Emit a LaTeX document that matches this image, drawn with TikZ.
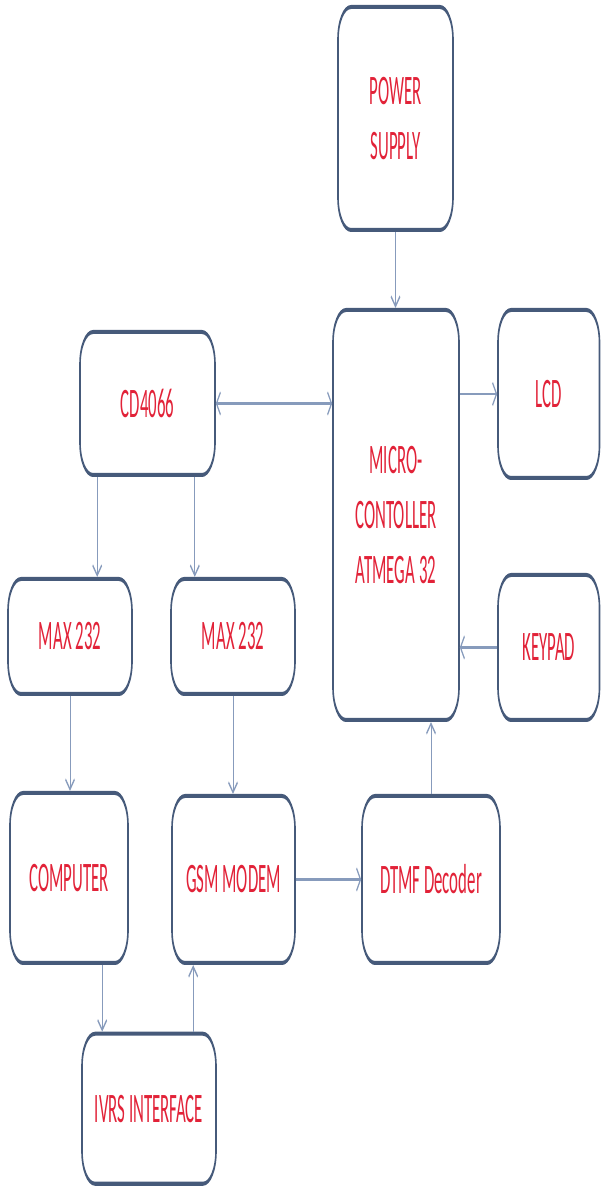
\documentclass[tikz,border=0pt]{standalone}
\usepackage{fontspec}
\setmainfont{Carlito}
\usetikzlibrary{arrows.meta,calc}
\definecolor{boxline}{RGB}{70,90,122}
\definecolor{arrline}{RGB}{135,155,188}
\definecolor{txtred}{RGB}{226,34,56}
\tikzset{
 blk/.style={draw=boxline, line width=1.6pt, rounded corners=13pt, fill=white, inner sep=0pt, align=center, text=txtred, font=\fontsize{16.8}{22}\selectfont},
 arr/.style={draw=arrline, line width=1pt, -{Straight Barb[length=4pt,width=9pt]}},
 darr/.style={draw=arrline, line width=1pt, {Straight Barb[length=4pt,width=9pt]}-{Straight Barb[length=4pt,width=9pt]}},
}
\begin{document}
\begin{tikzpicture}[x=1pt,y=1pt]
\useasboundingbox (0,0) rectangle (601,1187);
\begin{scope}[transform canvas={yscale=2.5}]
\node[blk, minimum width=115pt, minimum height=89.2pt] (PS) at (395.5,427.4) {POWER\\SUPPLY};
\node[blk, minimum width=126pt, minimum height=164pt] (MC) at (396,268.8) {MICRO-\\CONTOLLER\\ATMEGA 32};
\node[blk, minimum width=101.5pt, minimum height=67.2pt] (LCD) at (548.75,317.2) {LCD};
\node[blk, minimum width=135pt, minimum height=57.2pt] (CD) at (147.5,313.4) {CD4066};
\node[blk, minimum width=124pt, minimum height=46pt] (MAXL) at (70,220.2) {MAX 232};
\node[blk, minimum width=124pt, minimum height=46pt] (MAXM) at (233,220.2) {MAX 232};
\node[blk, minimum width=101.5pt, minimum height=58pt] (KEY) at (548.75,215.8) {KEYPAD};
\node[blk, minimum width=118pt, minimum height=68pt] (COMP) at (69,123.6) {COMPUTER};
\node[blk, minimum width=123pt, minimum height=66.8pt] (GSM) at (233.5,123) {GSM MODEM};
\node[blk, minimum width=138pt, minimum height=66.8pt] (DTMF) at (431,123) {DTMF Decoder};
\node[blk, minimum width=134pt, minimum height=60pt] (IVRS) at (149,31.3) {IVRS INTERFACE};

\coordinate (cdl) at ([xshift=18pt]CD.south west);
\coordinate (cdr) at ([xshift=-21pt]CD.south east);
\coordinate (ivl) at ([xshift=21pt]IVRS.north west);
\coordinate (gsl) at ([xshift=22pt]GSM.south west);

\draw[arr] (PS.south) -- (PS.south |- MC.north);
\draw[darr] (CD.east) -- (CD.east -| MC.west);
\draw[arr] (MC.east |- LCD.west) -- (LCD.west);
\draw[arr] (KEY.west) -- (KEY.west -| MC.east);
\draw[arr] (cdl) -- (cdl |- MAXL.north);
\draw[arr] (cdr) -- (cdr |- MAXM.north);
\draw[arr] (MAXL.south) -- (MAXL.south |- COMP.north);
\draw[arr] (MAXM.south) -- (MAXM.south |- GSM.north);
\draw[arr] (GSM.east) -- (DTMF.west);
\draw[arr] (DTMF.north) -- (DTMF.north |- MC.south);
\draw[arr] (ivl |- COMP.south) -- (ivl);
\draw[arr] (gsl |- IVRS.north) -- (gsl);
\end{scope}
\end{tikzpicture}
\end{document}
